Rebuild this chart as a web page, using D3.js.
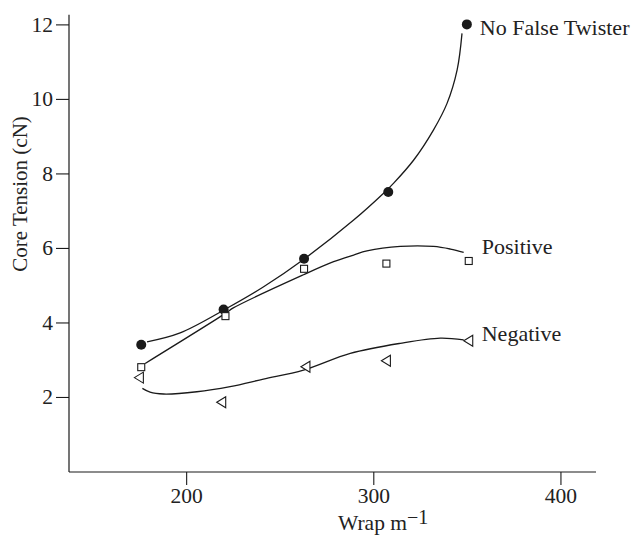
<!DOCTYPE html>
<html>
<head>
<meta charset="utf-8">
<script src="https://cdn.jsdelivr.net/npm/d3@7"></script>
<style>
  html, body { margin: 0; padding: 0; background: #fff; }
  svg { display: block; }
  text { font-family: "Liberation Serif", "Times New Roman", serif; fill: #222; }
</style>
</head>
<body>
<svg id="chart" width="633" height="535"></svg>
<script>
// ---- data ----
const xTicks = [200, 300, 400];
const yTicks = [2, 4, 6, 8, 10, 12];
const xLabel = "Wrap m";
const xLabelSup = "\u22121";
const yLabel = "Core Tension (cN)";

const seriesNames = ["No False Twister", "Positive", "Negative"];

const wrapNoFalse = [176, 220, 263, 308, 350];
const tensionNoFalse = [3.40, 4.35, 5.71, 7.50, 12.0];
const wrapPositive = [176, 221, 263, 307, 351];
const tensionPositive = [2.80, 4.17, 5.44, 5.58, 5.65];
const wrapNegative = [175, 219, 264, 307, 351];
const tensionNegative = [2.52, 1.86, 2.81, 2.97, 3.51];

// fitted trend curves
const curveNoFalseX = [179.1, 196.8, 221.8, 241.2, 262.7, 289.5, 305.5, 310.9, 321.6, 332.2, 339.4, 344.8, 347.4];
const curveNoFalseY = [3.48, 3.72, 4.38, 4.95, 5.69, 6.75, 7.47, 7.74, 8.36, 9.17, 9.88, 10.78, 11.76];
const curvePositiveX = [178.1, 221.2, 225.2, 262.7, 278.8, 289.5, 296.6, 314.4, 332.2, 341.2, 348.3];
const curvePositiveY = [2.90, 4.25, 4.39, 5.28, 5.63, 5.81, 5.92, 6.04, 6.04, 5.97, 5.88];
const curveNegativeX = [176.6, 180.7, 187.9, 205.7, 223.5, 241.3, 262.7, 287.7, 314.4, 335.8, 348.3];
const curveNegativeY = [2.23, 2.13, 2.08, 2.14, 2.28, 2.48, 2.72, 3.17, 3.44, 3.58, 3.53];

// ---- layout ----
const svg = d3.select("#chart");
const mLeft = 69, mRight = 596, mTop = 14.7, mBottom = 472;
const x = d3.scaleLinear().domain([137.4, 419]).range([mLeft, mRight]);
const y = d3.scaleLinear().domain([0, 12.26]).range([471.5, mTop]);
const ink = "#1a1a1a";

// axes
const xAxis = svg.append("g").attr("transform", `translate(0,${mBottom})`)
  .call(d3.axisBottom(x).tickValues(xTicks).tickSize(13).tickSizeOuter(0).tickFormat(d3.format("d")));
const yAxis = svg.append("g").attr("transform", `translate(${mLeft},0)`)
  .call(d3.axisLeft(y).tickValues(yTicks).tickSize(13).tickSizeOuter(0).tickFormat(d3.format("d")));
[xAxis, yAxis].forEach(g => {
  g.select(".domain").attr("stroke", ink).attr("stroke-width", 1.2);
  g.selectAll(".tick line").attr("stroke", ink).attr("stroke-width", 1.1);
  g.selectAll(".tick text").style("font-family", '"Liberation Serif", serif')
    .style("font-size", "21.5px").attr("fill", "#222");
});
// make the two axis lines meet at the corner
yAxis.select(".domain").attr("d", `M0,${mBottom}V${mTop}`);
xAxis.select(".domain").attr("d", `M${mLeft},0H${mRight}`);

// axis titles
const xt = svg.append("text").attr("x", 338).attr("y", 530)
  .style("font-size", "21.5px");
xt.append("tspan").text(xLabel);
xt.append("tspan").attr("dy", -6).style("font-size", "20px").text(xLabelSup);

svg.append("text")
  .attr("transform", `translate(27,194) rotate(-90)`)
  .attr("text-anchor", "middle")
  .style("font-size", "21px")
  .text(yLabel);

// curves
const line = d3.line().x(d => x(d[0])).y(d => y(d[1])).curve(d3.curveCatmullRom.alpha(0.5));
const curves = [
  d3.zip(curveNoFalseX, curveNoFalseY),
  d3.zip(curvePositiveX, curvePositiveY),
  d3.zip(curveNegativeX, curveNegativeY)
];
svg.selectAll("path.trend").data(curves).join("path")
  .attr("class", "trend")
  .attr("d", line)
  .attr("fill", "none")
  .attr("stroke", ink)
  .attr("stroke-width", 1.3);

// markers
const ptsNoFalse = d3.zip(wrapNoFalse, tensionNoFalse);
const ptsPositive = d3.zip(wrapPositive, tensionPositive);
const ptsNegative = d3.zip(wrapNegative, tensionNegative);

svg.selectAll("circle.nf").data(ptsNoFalse).join("circle")
  .attr("class", "nf")
  .attr("cx", d => x(d[0])).attr("cy", d => y(d[1])).attr("r", 5)
  .attr("fill", ink);

svg.selectAll("rect.pos").data(ptsPositive).join("rect")
  .attr("class", "pos")
  .attr("x", d => x(d[0]) - 3.5).attr("y", d => y(d[1]) - 3.5)
  .attr("width", 7).attr("height", 7)
  .attr("fill", "#fff").attr("stroke", ink).attr("stroke-width", 1.1);

svg.selectAll("path.neg").data(ptsNegative).join("path")
  .attr("class", "neg")
  .attr("transform", d => `translate(${x(d[0])},${y(d[1])})`)
  .attr("d", "M-5,0L4,-5.5L4,5.5Z")
  .attr("fill", "#fff").attr("stroke", ink).attr("stroke-width", 1.1);

// series labels
const lastPts = [ptsNoFalse[4], ptsPositive[4], ptsNegative[4]];
const labelDy = [11, -7, 0];
svg.selectAll("text.series").data(seriesNames).join("text")
  .attr("class", "series")
  .attr("x", (d, i) => x(lastPts[i][0]) + 13)
  .attr("y", (d, i) => y(lastPts[i][1]) + labelDy[i])
  .style("font-size", "22px")
  .text(d => d);
</script>
</body>
</html>
